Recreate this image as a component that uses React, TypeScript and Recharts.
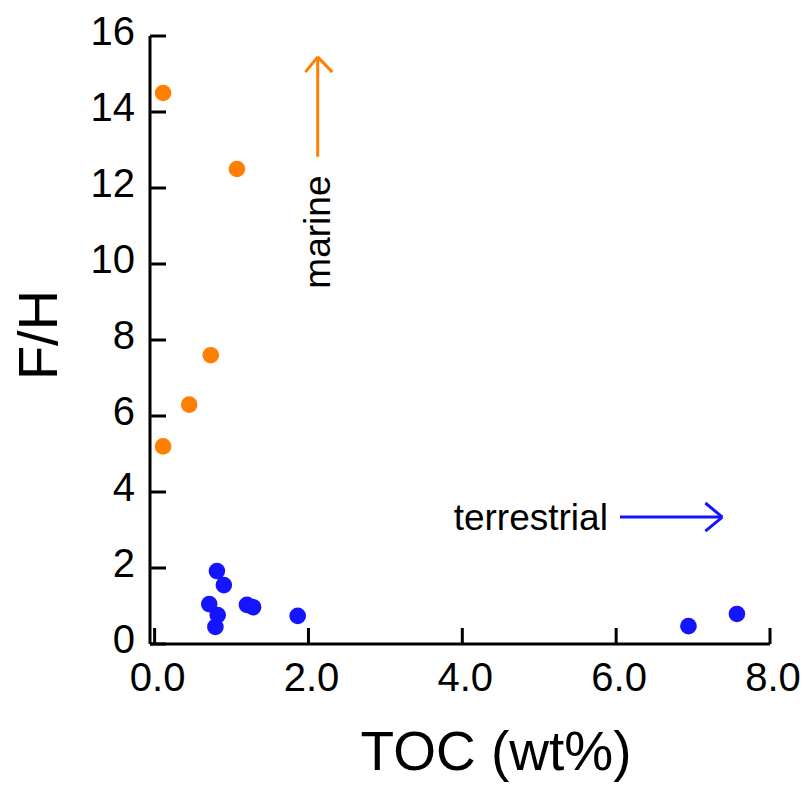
import React from 'react'
import { ScatterChart, Scatter, XAxis, YAxis, ReferenceLine, ReferenceDot, Label } from 'recharts'

// TOC (wt%) vs F/H
const marineToc = [0.11, 1.07, 0.73, 0.45, 0.11]
const marineFH = [14.5, 12.5, 7.6, 6.3, 5.2]
const terrestrialToc = [0.81, 0.9, 0.71, 0.82, 0.79, 1.2, 1.28, 1.86, 6.94, 7.57]
const terrestrialFH = [1.92, 1.55, 1.05, 0.76, 0.45, 1.03, 0.97, 0.74, 0.47, 0.79]
const xTicks = [0, 2, 4, 6, 8]
const yTicks = [0, 2, 4, 6, 8, 10, 12, 14, 16]

// annotation arrows in data units
const marineArrowX = 2.12
const marineArrowY = [12.82, 15.45]
const marineHeadY = 15.05
const marineHeadX = [1.96, 2.31]
const terrArrowY = 3.34
const terrArrowX = [6.05, 7.38]
const terrHeadX = 7.16
const terrHeadY = [3.71, 2.97]

const ORANGE = '#ff7f00'
const BLUE = '#1414ff'
const FONT = '"Liberation Sans", Arial, Helvetica, sans-serif'

const marine = marineToc.map((x, i) => ({ x, y: marineFH[i] }))
const terrestrial = terrestrialToc.map((x, i) => ({ x, y: terrestrialFH[i] }))

const axisStroke = { stroke: '#000', strokeWidth: 3 }

// ticks drawn inward, with the label outside
const XTick = (p: any) => (
  <g>
    <line x1={p.x} x2={p.x} y1={p.y} y2={p.y - 16} stroke="#000" strokeWidth={3} />
    <text x={p.x + 3} y={p.y + 47} textAnchor="middle" fontSize={40} fill="#000">
      {Number(p.payload.value).toFixed(1)}
    </text>
  </g>
)

const YTick = (p: any) => (
  <g>
    <line x1={p.x} x2={p.x + 16} y1={p.y} y2={p.y} stroke="#000" strokeWidth={3} />
    <text x={p.x - 15} y={p.y + 9} textAnchor="end" fontSize={40} fill="#000">
      {p.payload.value}
    </text>
  </g>
)

const Dot = (color: string) => (p: any) => <circle cx={p.cx} cy={p.cy} r={8.3} fill={color} />

export default function App() {
  return (
    <div style={{ position: 'absolute', left: 0, top: 0 }}>
      <ScatterChart
        width={812}
        height={785}
        margin={{ top: 36, right: 42, bottom: 15, left: 0 }}
        style={{ fontFamily: FONT }}
      >
        <XAxis
          type="number"
          dataKey="x"
          domain={[-0.06, 8]}
          ticks={xTicks}
          allowDataOverflow
          height={126}
          axisLine={axisStroke}
          tickLine={false}
          tickSize={0}
          tickMargin={0}
          tick={<XTick />}
        >
          <Label
            content={(p: any) => {
              const vb = p.viewBox
              return (
                <text x={vb.x + vb.width / 2 + 36} y={vb.y + vb.height} textAnchor="middle" fontSize={55} fill="#000">
                  TOC (wt%)
                </text>
              )
            }}
          />
        </XAxis>
        <YAxis
          type="number"
          dataKey="y"
          domain={[0, 16]}
          ticks={yTicks}
          width={150}
          axisLine={axisStroke}
          tickLine={false}
          tickSize={0}
          tickMargin={0}
          tick={<YTick />}
        >
          <Label
            content={(p: any) => {
              const vb = p.viewBox
              const cx = vb.x + 57
              const cy = vb.y + vb.height / 2 - 5
              return (
                <text x={cx} y={cy} transform={`rotate(-90 ${cx} ${cy})`} textAnchor="middle" fontSize={56} fill="#000">
                  F/H
                </text>
              )
            }}
          />
        </YAxis>

        <ReferenceLine segment={[{ x: marineArrowX, y: marineArrowY[0] }, { x: marineArrowX, y: marineArrowY[1] }]} stroke={ORANGE} strokeWidth={3} />
        <ReferenceLine segment={[{ x: marineHeadX[0], y: marineHeadY }, { x: marineArrowX, y: marineArrowY[1] }]} stroke={ORANGE} strokeWidth={3} />
        <ReferenceLine segment={[{ x: marineHeadX[1], y: marineHeadY }, { x: marineArrowX, y: marineArrowY[1] }]} stroke={ORANGE} strokeWidth={3} />

        <ReferenceLine segment={[{ x: terrArrowX[0], y: terrArrowY }, { x: terrArrowX[1], y: terrArrowY }]} stroke={BLUE} strokeWidth={3} />
        <ReferenceLine segment={[{ x: terrHeadX, y: terrHeadY[0] }, { x: terrArrowX[1], y: terrArrowY }]} stroke={BLUE} strokeWidth={3} />
        <ReferenceLine segment={[{ x: terrHeadX, y: terrHeadY[1] }, { x: terrArrowX[1], y: terrArrowY }]} stroke={BLUE} strokeWidth={3} />

        <ReferenceDot
          x={2.28}
          y={10.84}
          r={1}
          shape={(p: any) => (
            <text x={p.cx} y={p.cy} transform={`rotate(-90 ${p.cx} ${p.cy})`} textAnchor="middle" fontSize={37} fill="#000">
              marine
            </text>
          )}
        />
        <ReferenceDot
          x={4.89}
          y={3.0}
          r={1}
          shape={(p: any) => (
            <text x={p.cx} y={p.cy} textAnchor="middle" fontSize={37} fill="#000">
              terrestrial
            </text>
          )}
        />

        <Scatter name="marine" data={marine} shape={Dot(ORANGE)} isAnimationActive={false} />
        <Scatter name="terrestrial" data={terrestrial} shape={Dot(BLUE)} isAnimationActive={false} />
      </ScatterChart>
    </div>
  )
}
